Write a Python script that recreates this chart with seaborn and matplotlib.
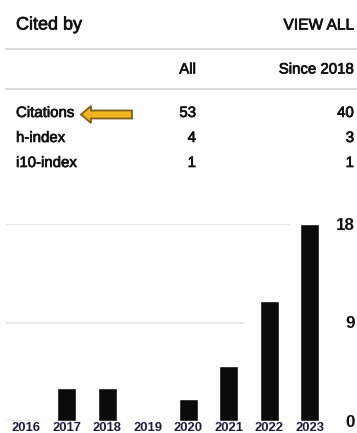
import matplotlib
matplotlib.use("Agg")
import matplotlib.pyplot as plt
import matplotlib.patheffects as pe
from matplotlib.patches import Polygon
from matplotlib.lines import Line2D
import seaborn as sns

# ---- data ----
years = ["2016", "2017", "2018", "2019", "2020", "2021", "2022", "2023"]
citations_per_year = [0, 3, 3, 0, 2, 5, 11, 18]
y_ticks = [0, 9, 18]

row_labels = ["Citations", "h-index", "i10-index"]
all_values = ["53", "4", "1"]
since_values = ["40", "3", "1"]
col_headers = ["All", "Since 2018"]

W, H = 357, 433
sns.set_theme(style="white")
plt.rcParams["font.family"] = ["Liberation Sans", "DejaVu Sans"]

fig = plt.figure(figsize=(W / 100, H / 100), dpi=100)
fig.patch.set_facecolor("white")

TXT = "#111111"
SANS = ["Liberation Sans", "DejaVu Sans"]
HEAVY = [pe.withStroke(linewidth=0.5, foreground=TXT)]


def ptext(x, y, s, size, ha="left", color=TXT):
    fig.text(x / W, 1 - y / H, s, fontsize=size * 0.72, ha=ha, va="baseline",
             family=SANS, color=color, path_effects=HEAVY)


def hrule(y, x0=6, x1=357, color="#d8d8d8"):
    fig.add_artist(Line2D([x0 / W, x1 / W], [1 - y / H, 1 - y / H],
                          transform=fig.transFigure, color=color, lw=1.3))


# ---- header table ----
ptext(16, 29.5, "Cited by", 18)
ptext(354, 29.5, "VIEW ALL", 15.5, ha="right")
hrule(49)
ptext(196, 73.5, col_headers[0], 15, ha="right")
ptext(354, 73.5, col_headers[1], 15, ha="right")
hrule(89)

row_base = [117, 142, 167]
for lab, a, s, yb in zip(row_labels, all_values, since_values, row_base):
    ptext(16, yb, lab, 15)
    ptext(196, yb, a, 15, ha="right")
    ptext(354, yb, s, 15, ha="right")

# pointer arrow next to the Citations row
arrow_px = [(81, 114.5), (91, 106), (91, 110.5), (132, 110.5),
            (132, 118.5), (91, 118.5), (91, 123)]
fig.add_artist(Polygon([(x / W, 1 - y / H) for x, y in arrow_px], closed=True,
                       transform=fig.transFigure, facecolor="#F1B521",
                       edgecolor="#7B5E22", lw=1.3))

# ---- bar chart ----
ax_l, ax_r, ax_b, ax_t = 6, 330, 421, 224
ax = fig.add_axes([ax_l / W, 1 - ax_b / H, (ax_r - ax_l) / W, (ax_b - ax_t) / H])
ax.set_facecolor("none")

step = 38.27
x0c = 27.9
ax.set_xlim((ax_l - x0c) / step, (ax_r - x0c) / step)
ax.set_ylim(0, 18)

# light grid lines, each stopping short of the tall columns
grid_ends = [0.37, 5.41, 6.51]
for lvl, xe in zip(y_ticks, grid_ends):
    ax.hlines(lvl, (ax_l - x0c) / step, xe, color="#e4e4e4", lw=1.2, zorder=0)

sns.barplot(x=years, y=citations_per_year, order=years, color="#0b0b0b",
            saturation=1, width=0.47, ax=ax, zorder=2)

for sp in ax.spines.values():
    sp.set_visible(False)
ax.set_xlabel("")
ax.set_ylabel("")
ax.yaxis.tick_right()
ax.set_yticks(y_ticks)
ax.set_yticklabels([str(v) for v in y_ticks], family=SANS, fontsize=17 * 0.72,
                   color=TXT, ha="right", weight="bold")
ax.tick_params(axis="y", length=0, pad=18)
ax.tick_params(axis="x", length=0, pad=1)
for t in ax.get_xticklabels():
    t.set_fontsize(13 * 0.72)
    t.set_family(SANS)
    t.set_color("#1c1c3a")
    t.set_weight("bold")

fig.savefig("out.png", dpi=100, facecolor="white")
